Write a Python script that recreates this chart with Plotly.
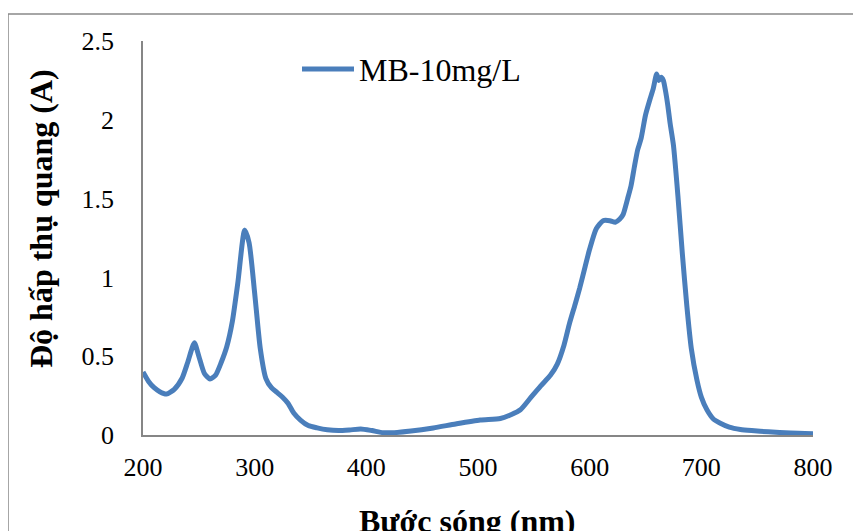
import plotly.graph_objects as go

wavelength = [200, 205, 210, 215, 221, 228, 235, 240, 246, 250, 255, 260, 265, 270, 275, 280, 285, 291,
              295, 300, 305, 310, 315, 320, 325, 330, 335, 341, 348, 356, 365, 375, 385, 395, 405, 415,
              425, 440, 460, 480, 502, 520, 530, 538, 547, 556, 565, 571, 577, 582, 587, 591, 596, 600,
              606, 612, 618, 623, 627, 630, 634, 637, 640, 643, 646, 650, 654, 657, 660, 662, 664, 666,
              668, 670, 672, 675, 679, 683, 687, 691, 696, 700, 705, 711, 717, 725, 735, 745, 760, 780, 800]
absorbance = [0.40, 0.34, 0.30, 0.275, 0.26, 0.29, 0.36, 0.46, 0.585, 0.50, 0.39, 0.355, 0.38, 0.46, 0.56,
              0.72, 0.97, 1.30, 1.22, 0.90, 0.55, 0.36, 0.30, 0.27, 0.24, 0.20, 0.14, 0.095, 0.06, 0.045,
              0.033, 0.028, 0.032, 0.038, 0.028, 0.015, 0.015, 0.025, 0.045, 0.07, 0.095, 0.105, 0.13,
              0.16, 0.235, 0.31, 0.38, 0.45, 0.57, 0.71, 0.83, 0.93, 1.07, 1.18, 1.31, 1.36, 1.36, 1.35,
              1.37, 1.40, 1.50, 1.58, 1.70, 1.81, 1.88, 2.03, 2.13, 2.20, 2.29, 2.25, 2.27, 2.25, 2.18,
              2.09, 1.98, 1.84, 1.52, 1.15, 0.82, 0.55, 0.35, 0.24, 0.16, 0.10, 0.075, 0.05, 0.035,
              0.028, 0.02, 0.012, 0.008]

series_name = "MB-10mg/L"
x_title = "Bước sóng (nm)"
y_title = "Độ hấp thụ quang (A)"
x_ticks = [200, 300, 400, 500, 600, 700, 800]
y_ticks = [0, 0.5, 1, 1.5, 2, 2.5]
y_tick_text = ["0", "0.5", "1", "1.5", "2", "2.5"]

LINE_COLOR = "#4A7EBB"
AXIS_COLOR = "#868686"
FONT = "Liberation Serif, Times New Roman, serif"

fig = go.Figure()
fig.add_trace(go.Scatter(x=wavelength, y=absorbance, mode="lines", name=series_name,
                         line=dict(color=LINE_COLOR, width=5, shape="spline", smoothing=0.6),
                         showlegend=False))

# page offset (body margin) compensation
OFF = 8
W, H = 861 - OFF, 531 - OFF
L, T = 143 - OFF, 41 - OFF
pw, ph = 670, 394
R = W - L - pw
B = H - T - ph

def px(xp):
    return (xp - OFF - L) / pw

def py(yp):
    return (T + ph - (yp - OFF)) / ph

fig.update_layout(
    width=W, height=H,
    margin=dict(l=L, r=R, t=T, b=B),
    paper_bgcolor="white", plot_bgcolor="white",
    font=dict(family=FONT, color="black", size=26),
    xaxis=dict(range=[200, 800], tickvals=x_ticks, showgrid=False, zeroline=False,
               showline=True, linecolor=AXIS_COLOR, linewidth=1.5, ticks="",
               ticklabelstandoff=8, tickfont=dict(size=26, family=FONT)),
    yaxis=dict(range=[0, 2.5], tickvals=y_ticks, ticktext=y_tick_text, showgrid=False,
               zeroline=False, showline=True, linecolor=AXIS_COLOR, linewidth=1.5, ticks="",
               ticklabelstandoff=22, tickfont=dict(size=26, family=FONT)),
    showlegend=False,
)

# chart border (top and left visible)
fig.add_shape(type="line", xref="paper", yref="paper", x0=px(8), x1=px(870), y0=py(14), y1=py(14),
              line=dict(color="#898989", width=1.5))
fig.add_shape(type="line", xref="paper", yref="paper", x0=px(8), x1=px(8), y0=py(14), y1=py(540),
              line=dict(color="#898989", width=1.5))

# legend
fig.add_shape(type="line", xref="paper", yref="paper", x0=px(302), x1=px(354), y0=py(69), y1=py(69),
              line=dict(color=LINE_COLOR, width=5))
fig.add_annotation(xref="paper", yref="paper", x=px(357), y=py(70), xanchor="left", yanchor="middle",
                   text=series_name, showarrow=False, font=dict(size=32, family=FONT, color="black"))

# axis titles
fig.add_annotation(xref="paper", yref="paper", x=px(467), y=py(521), xanchor="center", yanchor="middle",
                   text="<b>" + x_title + "</b>", showarrow=False,
                   font=dict(size=32, family=FONT, color="black"))
fig.add_annotation(xref="paper", yref="paper", x=px(41), y=py(219), xanchor="center", yanchor="middle",
                   text="<b>" + y_title + "</b>", showarrow=False, textangle=-90,
                   font=dict(size=32, family=FONT, color="black"))

fig.write_html("out.html")
